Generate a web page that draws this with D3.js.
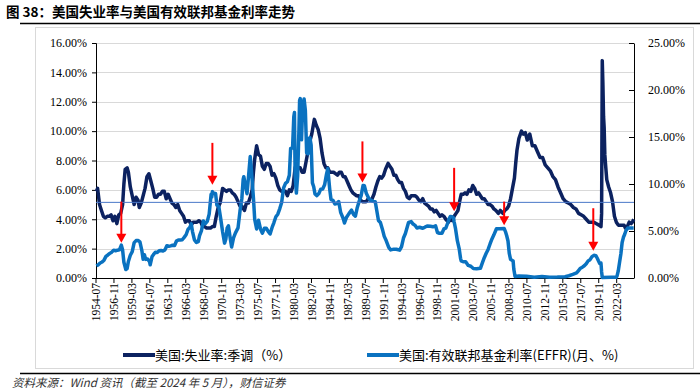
<!DOCTYPE html>
<html>
<head>
<meta charset="utf-8">
<script src="https://cdn.jsdelivr.net/npm/d3@7"></script>
<style>
  body { margin: 0; background: #fff; }
  svg { display: block; }
</style>
</head>
<body>
<svg id="chart" width="700" height="392"></svg>
<script>
// months from 1954-07 to 2024-05
const startYear = 1954, startMonth = 7, monthCount = 839;

// 美国:失业率:季调 (%)  left axis
const unemployment = [
  ["1954-07",5.9],["1954-09",6.1],["1954-12",5.0],["1955-03",4.6],["1955-06",4.2],["1955-09",4.1],
  ["1955-12",4.2],["1956-03",4.2],["1956-06",4.3],["1956-09",3.9],["1956-12",4.2],["1957-03",3.7],
  ["1957-06",4.3],["1957-09",4.4],["1957-12",5.0],["1958-02",6.4],["1958-04",7.4],["1958-07",7.5],
  ["1958-09",7.2],["1958-12",6.2],["1959-03",5.6],["1959-06",5.0],["1959-09",5.5],["1959-12",5.3],
  ["1960-02",4.8],["1960-05",5.1],["1960-08",5.6],["1960-11",6.1],["1961-02",6.9],["1961-05",7.1],
  ["1961-08",6.6],["1961-11",6.1],["1962-02",5.5],["1962-05",5.5],["1962-08",5.7],["1962-11",5.7],
  ["1963-02",5.9],["1963-05",5.9],["1963-08",5.4],["1963-11",5.7],["1964-02",5.4],["1964-05",5.1],
  ["1964-08",5.0],["1964-11",4.8],["1965-02",5.0],["1965-05",4.6],["1965-08",4.4],["1965-11",4.2],
  ["1966-02",3.8],["1966-05",3.9],["1966-08",3.9],["1966-11",3.6],["1967-02",3.8],["1967-05",3.8],
  ["1967-08",3.8],["1967-11",3.9],["1968-02",3.8],["1968-05",3.5],["1968-08",3.5],["1968-11",3.4],
  ["1969-02",3.4],["1969-05",3.4],["1969-08",3.5],["1969-11",3.5],["1970-02",4.2],["1970-05",4.8],
  ["1970-08",5.1],["1970-12",6.1],["1971-03",6.0],["1971-06",5.9],["1971-09",6.0],["1971-12",6.0],
  ["1972-03",5.8],["1972-06",5.7],["1972-09",5.5],["1972-12",5.2],["1973-03",4.9],["1973-06",4.9],
  ["1973-10",4.6],["1974-01",5.1],["1974-04",5.1],["1974-07",5.5],["1974-10",6.0],["1974-12",7.2],
  ["1975-02",8.1],["1975-05",9.0],["1975-08",8.4],["1975-11",8.3],["1976-02",7.6],["1976-05",7.4],
  ["1976-08",7.8],["1976-11",7.8],["1977-02",7.6],["1977-05",7.0],["1977-08",7.1],["1977-11",6.8],
  ["1978-02",6.3],["1978-05",6.0],["1978-08",5.9],["1978-11",5.9],["1979-02",5.9],["1979-05",5.6],
  ["1979-08",6.0],["1979-11",5.9],["1980-02",6.3],["1980-05",7.5],["1980-07",7.8],["1980-10",7.5],
  ["1981-01",7.5],["1981-04",7.2],["1981-07",7.2],["1981-10",7.9],["1982-01",8.6],["1982-04",9.3],
  ["1982-07",9.8],["1982-11",10.8],["1983-02",10.4],["1983-05",10.1],["1983-08",9.5],["1983-11",8.5],
  ["1984-02",7.8],["1984-05",7.5],["1984-08",7.5],["1984-11",7.2],["1985-02",7.2],["1985-05",7.2],
  ["1985-08",7.1],["1985-11",7.0],["1986-02",7.2],["1986-05",7.2],["1986-08",6.9],["1986-11",6.9],
  ["1987-02",6.6],["1987-05",6.3],["1987-08",6.0],["1987-11",5.8],["1988-02",5.7],["1988-05",5.6],
  ["1988-08",5.6],["1988-11",5.3],["1989-02",5.2],["1989-05",5.2],["1989-08",5.2],["1989-11",5.4],
  ["1990-02",5.3],["1990-05",5.4],["1990-08",5.7],["1990-11",6.2],["1991-02",6.6],["1991-05",6.9],
  ["1991-08",6.8],["1991-11",7.0],["1992-02",7.4],["1992-06",7.8],["1992-09",7.6],["1992-12",7.4],
  ["1993-03",7.0],["1993-06",7.0],["1993-09",6.7],["1993-12",6.5],["1994-03",6.5],["1994-06",6.1],
  ["1994-09",5.9],["1994-12",5.5],["1995-03",5.4],["1995-06",5.6],["1995-09",5.6],["1995-12",5.6],
  ["1996-03",5.5],["1996-06",5.3],["1996-09",5.2],["1996-12",5.4],["1997-03",5.1],["1997-06",5.0],
  ["1997-09",4.9],["1997-12",4.7],["1998-03",4.7],["1998-06",4.5],["1998-09",4.6],["1998-12",4.4],
  ["1999-03",4.2],["1999-06",4.3],["1999-09",4.2],["1999-12",4.0],["2000-04",3.8],["2000-07",4.0],
  ["2000-10",3.9],["2001-01",4.2],["2001-04",4.4],["2001-07",4.6],["2001-10",5.3],["2001-12",5.7],
  ["2002-03",5.7],["2002-06",5.8],["2002-09",5.7],["2002-12",6.0],["2003-03",5.9],["2003-06",6.3],
  ["2003-09",6.1],["2003-12",5.7],["2004-03",5.8],["2004-06",5.6],["2004-09",5.4],["2004-12",5.4],
  ["2005-03",5.2],["2005-06",5.0],["2005-09",5.0],["2005-12",4.9],["2006-03",4.7],["2006-06",4.6],
  ["2006-10",4.4],["2007-01",4.6],["2007-05",4.4],["2007-08",4.6],["2007-11",4.7],["2008-02",4.9],
  ["2008-05",5.4],["2008-08",6.1],["2008-11",6.8],["2009-01",7.8],["2009-03",8.7],["2009-06",9.5],
  ["2009-10",10.0],["2010-01",9.8],["2010-04",9.9],["2010-07",9.4],["2010-11",9.8],["2011-03",9.0],
  ["2011-07",9.0],["2011-11",8.6],["2012-03",8.2],["2012-07",8.2],["2012-11",7.7],["2013-03",7.5],
  ["2013-07",7.3],["2013-11",6.9],["2014-03",6.7],["2014-07",6.2],["2014-11",5.8],["2015-03",5.4],
  ["2015-07",5.2],["2015-11",5.1],["2016-03",5.0],["2016-07",4.8],["2016-11",4.7],["2017-03",4.4],
  ["2017-07",4.3],["2017-11",4.2],["2018-03",4.0],["2018-07",3.8],["2018-11",3.8],["2019-03",3.8],
  ["2019-07",3.7],["2019-11",3.6],["2020-02",3.5],["2020-03",4.4],["2020-04",14.8],["2020-05",13.2],
  ["2020-06",11.0],["2020-07",10.2],["2020-08",8.4],["2020-09",7.8],["2020-11",6.7],["2021-02",6.2],
  ["2021-05",5.8],["2021-08",5.2],["2021-11",4.2],["2022-02",3.8],["2022-05",3.6],["2022-08",3.6],
  ["2022-11",3.6],["2023-02",3.6],["2023-04",3.4],["2023-07",3.5],["2023-10",3.8],["2024-01",3.7],
  ["2024-03",3.8],["2024-05",4.0]
];

// 美国:有效联邦基金利率(EFFR) (%)  right axis
const effr = [
  ["1954-07",1.3],["1954-10",1.4],["1955-01",1.6],["1955-04",1.7],["1955-07",1.9],["1955-10",2.3],
  ["1956-01",2.45],["1956-04",2.62],["1956-07",2.75],["1956-10",2.96],["1957-01",2.9],["1957-04",2.96],
  ["1957-07",3.0],["1957-10",3.5],["1957-12",2.98],["1958-02",1.67],["1958-05",0.9],["1958-07",1.0],
  ["1958-09",1.76],["1958-12",2.42],["1959-03",2.8],["1959-06",3.76],["1959-09",3.98],["1959-12",3.99],
  ["1960-03",3.84],["1960-06",2.92],["1960-08",2.0],["1960-10",2.47],["1960-12",1.98],["1961-03",2.02],
  ["1961-06",1.73],["1961-07",1.4],["1961-10",2.29],["1961-12",2.48],["1962-03",2.74],["1962-06",2.71],
  ["1962-09",2.9],["1962-12",2.93],["1963-03",2.88],["1963-06",2.99],["1963-09",3.44],["1963-12",3.38],
  ["1964-03",3.42],["1964-06",3.49],["1964-09",3.45],["1964-12",3.93],["1965-03",4.05],["1965-06",4.04],
  ["1965-09",4.07],["1965-12",4.32],["1966-03",4.6],["1966-06",5.17],["1966-09",5.4],["1966-11",5.76],
  ["1967-01",4.94],["1967-04",4.05],["1967-07",3.79],["1967-10",3.88],["1967-12",4.51],["1968-03",5.05],
  ["1968-06",6.07],["1968-09",5.78],["1968-12",6.02],["1969-03",6.79],["1969-06",8.9],["1969-07",8.61],
  ["1969-08",9.19],["1969-10",9.0],["1970-01",8.98],["1970-03",7.76],["1970-06",7.6],["1970-09",6.29],
  ["1970-12",4.9],["1971-03",3.71],["1971-05",4.15],["1971-07",5.31],["1971-09",5.55],["1971-12",4.14],
  ["1972-02",3.29],["1972-05",4.27],["1972-08",4.8],["1972-10",5.06],["1972-12",5.33],["1973-03",7.09],
  ["1973-06",8.49],["1973-08",10.5],["1973-09",10.78],["1973-11",10.01],["1974-02",8.97],["1974-04",10.51],
  ["1974-07",12.92],["1974-09",11.34],["1974-12",8.53],["1975-02",6.24],["1975-05",5.22],["1975-08",6.14],
  ["1975-11",5.22],["1976-02",4.77],["1976-05",5.29],["1976-08",5.29],["1976-11",4.95],["1977-02",4.68],
  ["1977-05",5.35],["1977-08",5.9],["1977-11",6.51],["1978-02",6.79],["1978-05",7.36],["1978-08",8.04],
  ["1978-11",9.58],["1979-02",10.06],["1979-05",10.24],["1979-08",10.94],["1979-10",13.77],["1980-01",13.82],
  ["1980-03",17.19],["1980-04",17.61],["1980-05",10.98],["1980-07",9.03],["1980-09",10.87],["1980-11",15.85],
  ["1980-12",18.9],["1981-01",19.08],["1981-03",14.7],["1981-05",18.52],["1981-07",19.04],["1981-09",17.82],
  ["1981-11",13.31],["1982-01",13.22],["1982-02",14.78],["1982-04",14.94],["1982-06",14.15],["1982-08",10.12],
  ["1982-10",9.71],["1982-12",8.95],["1983-03",8.77],["1983-06",8.98],["1983-09",9.45],["1983-12",9.47],
  ["1984-03",9.91],["1984-06",11.06],["1984-08",11.64],["1984-11",9.43],["1985-01",8.35],["1985-04",8.27],
  ["1985-07",7.88],["1985-10",7.92],["1986-01",8.14],["1986-04",6.99],["1986-08",6.33],["1986-10",5.85],
  ["1987-01",6.43],["1987-05",6.85],["1987-09",7.22],["1987-12",6.77],["1988-03",6.58],["1988-06",7.51],
  ["1988-09",8.19],["1988-12",8.76],["1989-03",9.85],["1989-05",9.81],["1989-08",9.02],["1989-12",8.45],
  ["1990-03",8.28],["1990-07",8.15],["1990-10",8.11],["1990-12",7.31],["1991-03",6.12],["1991-06",5.9],
  ["1991-09",5.22],["1991-12",4.43],["1992-03",3.98],["1992-07",3.25],["1992-10",2.99],["1993-03",3.07],
  ["1993-07",3.06],["1993-12",2.96],["1994-03",3.34],["1994-06",4.25],["1994-09",4.73],["1994-12",5.45],
  ["1995-02",5.92],["1995-06",6.0],["1995-09",5.74],["1995-12",5.6],["1996-03",5.31],["1996-07",5.4],
  ["1996-12",5.29],["1997-03",5.39],["1997-07",5.54],["1997-12",5.5],["1998-04",5.45],["1998-08",5.55],
  ["1998-11",4.83],["1999-02",4.76],["1999-06",4.76],["1999-09",5.22],["1999-12",5.3],["2000-03",5.85],
  ["2000-05",6.27],["2000-07",6.54],["2000-10",6.51],["2000-12",6.4],["2001-01",5.98],["2001-03",5.31],
  ["2001-06",3.97],["2001-09",3.07],["2001-11",2.09],["2001-12",1.82],["2002-03",1.73],["2002-07",1.73],
  ["2002-11",1.34],["2003-03",1.25],["2003-07",1.01],["2003-12",0.98],["2004-06",1.03],["2004-09",1.61],
  ["2004-12",2.16],["2005-03",2.63],["2005-06",3.04],["2005-09",3.62],["2005-12",4.16],["2006-03",4.59],
  ["2006-07",5.24],["2006-12",5.24],["2007-07",5.26],["2007-09",4.94],["2007-11",4.49],["2008-01",3.94],
  ["2008-03",2.61],["2008-05",1.98],["2008-09",1.81],["2008-10",0.97],["2008-12",0.16],["2009-06",0.21],
  ["2010-06",0.18],["2011-06",0.09],["2012-06",0.16],["2013-06",0.09],["2014-06",0.1],["2015-06",0.13],
  ["2015-12",0.24],["2016-06",0.38],["2016-12",0.54],["2017-03",0.79],["2017-06",1.04],["2017-09",1.15],
  ["2017-12",1.3],["2018-03",1.51],["2018-06",1.82],["2018-09",1.95],["2018-12",2.27],["2019-03",2.41],
  ["2019-06",2.38],["2019-08",2.13],["2019-10",1.83],["2019-12",1.55],["2020-02",1.58],["2020-03",0.65],
  ["2020-04",0.05],["2021-06",0.08],["2022-02",0.08],["2022-03",0.2],["2022-05",0.77],["2022-07",1.68],
  ["2022-09",2.56],["2022-11",3.78],["2023-01",4.33],["2023-03",4.65],["2023-05",5.06],["2023-08",5.33],
  ["2024-05",5.33]
];

// red arrows: month, top and tip on the left axis scale
const arrows = [
  ["1957-10",5.2,2.4],["1969-08",9.2,6.35],["1989-02",9.3,6.5],
  ["2001-01",7.5,4.55],["2007-07",5.2,3.6],["2019-02",4.75,1.85]
];
const refLine = 5.15;   // horizontal reference, left axis

const leftTicks = [0,2,4,6,8,10,12,14,16];
const rightTicks = [0,5,10,15,20,25];
const tickStep = 28;

const legendNames = ["美国:失业率:季调（%）", "美国:有效联邦基金利率(EFFR)(月、%)"];
const colors = ["#0c2260", "#0a72c0"];

function monthIndex(s){
  let p = s.split('-');
  return (+p[0] - startYear) * 12 + (+p[1] - startMonth);
}
function monthLabel(i){
  let m = startMonth - 1 + i;
  let y = startYear + Math.floor(m / 12);
  let mm = m % 12 + 1;
  return y + '-' + (mm < 10 ? '0' + mm : mm);
}

let svg = d3.select('#chart');
let plotL = 96, plotR = 634, plotT = 43, plotB = 278;
let serif = "'Liberation Serif','Times New Roman',serif";
let cjk = "'Noto Sans CJK SC','Noto Sans',sans-serif";

// title
svg.append('text').attr('x', 6).attr('y', 17)
  .attr('font-family', cjk).attr('font-weight', 700).attr('font-size', 13.5)
  .text('图 38：美国失业率与美国有效联邦基金利率走势');
svg.append('line').attr('x1', 20).attr('x2', 700).attr('y1', 23.5).attr('y2', 23.5)
  .attr('stroke', '#000').attr('stroke-width', 1.5);

// frame
svg.append('rect').attr('x', 35.5).attr('y', 27.5).attr('width', 658).attr('height', 341)
  .attr('fill', 'none').attr('stroke', '#d9d9d9');

let step = (plotR - plotL) / monthCount;
let x = d3.scaleLinear().domain([0, monthCount - 1]).range([plotL + step / 2, plotR - step / 2]);
let yl = d3.scaleLinear().domain([0, 16]).range([plotB, plotT]);
let yr = d3.scaleLinear().domain([0, 25]).range([plotB, plotT]);

// grid
svg.append('g').selectAll('line').data(leftTicks.slice(1)).enter().append('line')
  .attr('x1', plotL).attr('x2', plotR)
  .attr('y1', d => Math.round(yl(d)) + 0.5).attr('y2', d => Math.round(yl(d)) + 0.5)
  .attr('stroke', '#d9d9d9').attr('stroke-width', 1);

// left axis
let gl = svg.append('g').attr('transform', 'translate(' + plotL + ',0)')
  .call(d3.axisLeft(yl).tickValues(leftTicks).tickSize(4).tickFormat(d => d.toFixed(2) + '%'));
gl.selectAll('text').attr('font-family', serif).attr('font-size', 12).attr('fill', '#000').attr('dx', -2);

// right axis (ticks inward)
let gr = svg.append('g').attr('transform', 'translate(' + plotR + ',0)')
  .call(d3.axisRight(yr).tickValues(rightTicks).tickSizeInner(-5).tickSizeOuter(0).tickPadding(14)
    .tickFormat(d => d.toFixed(2) + '%'));
gr.selectAll('text').attr('font-family', serif).attr('font-size', 12).attr('fill', '#000');

// bottom axis
let xTickIdx = d3.range(0, monthCount, tickStep);
let gx = svg.append('g');
gx.append('line').attr('x1', plotL).attr('x2', plotR).attr('y1', plotB + 0.5).attr('y2', plotB + 0.5)
  .attr('stroke', '#000');
gx.selectAll('.xt').data(xTickIdx).enter().append('line').attr('class', 'xt')
  .attr('x1', d => plotL + d * step).attr('x2', d => plotL + d * step)
  .attr('y1', plotB).attr('y2', plotB + 5).attr('stroke', '#000');
gx.selectAll('.xl').data(xTickIdx).enter().append('text').attr('class', 'xl')
  .attr('transform', d => 'translate(' + (x(d) + 4) + ',' + (plotB + 5) + ') rotate(-90)')
  .attr('text-anchor', 'end').attr('font-family', serif).attr('font-size', 11.5)
  .text(d => monthLabel(d));

// lines
let lineL = d3.line().x(d => x(monthIndex(d[0]))).y(d => yl(d[1]));
let lineR = d3.line().x(d => x(monthIndex(d[0]))).y(d => yr(d[1]));

svg.append('path').datum(unemployment).attr('d', lineL)
  .attr('fill', 'none').attr('stroke', colors[0]).attr('stroke-width', 3.5).attr('stroke-linejoin', 'round');
svg.append('path').datum(effr).attr('d', lineR)
  .attr('fill', 'none').attr('stroke', colors[1]).attr('stroke-width', 3.5).attr('stroke-linejoin', 'round');

svg.append('line').attr('x1', plotL).attr('x2', plotR)
  .attr('y1', yl(refLine)).attr('y2', yl(refLine)).attr('stroke', '#4a78c8').attr('stroke-width', 1);

// arrows
let ag = svg.append('g').selectAll('g').data(arrows).enter().append('g');
ag.append('line')
  .attr('x1', d => x(monthIndex(d[0]))).attr('x2', d => x(monthIndex(d[0])))
  .attr('y1', d => yl(d[1])).attr('y2', d => yl(d[2]) - 8)
  .attr('stroke', '#ff0000').attr('stroke-width', 2);
ag.append('path')
  .attr('d', d => {
    let cx = x(monthIndex(d[0])), ty = yl(d[2]);
    return 'M' + (cx - 5) + ',' + (ty - 9) + 'L' + (cx + 5) + ',' + (ty - 9) + 'L' + cx + ',' + ty + 'Z';
  })
  .attr('fill', '#ff0000');

// legend
let legendX = [123, 367];
let lg = svg.append('g').selectAll('g').data(legendNames).enter().append('g')
  .attr('transform', (d, i) => 'translate(' + legendX[i] + ',355)');
lg.append('line').attr('x1', 0).attr('x2', 32).attr('y1', 0).attr('y2', 0)
  .attr('stroke', (d, i) => colors[i]).attr('stroke-width', 4);
lg.append('text').attr('x', 32).attr('y', 4.5)
  .attr('font-family', cjk).attr('font-size', 13).text(d => d);

// bottom rule and source
svg.append('line').attr('x1', 20).attr('x2', 700).attr('y1', 373.5).attr('y2', 373.5)
  .attr('stroke', '#000').attr('stroke-width', 1.5);
svg.append('text').attr('x', 12).attr('y', 387)
  .attr('font-family', cjk).attr('font-style', 'italic').attr('font-size', 11.5).attr('fill', '#333')
  .text('资料来源：Wind 资讯（截至 2024 年 5 月），财信证券');
</script>
</body>
</html>
